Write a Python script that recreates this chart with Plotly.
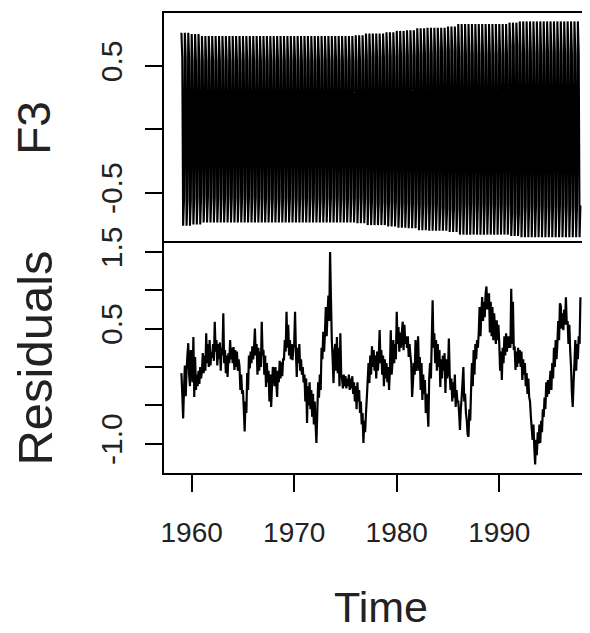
import plotly.graph_objects as go
from plotly.subplots import make_subplots

# ---------------- data ----------------
start_year = 1959
years = list(range(1959, 1998))

# F3 seasonal term: 4-month cycle  peak, shoulder, -peak, -shoulder ; levels per year
f3_peak = [0.76, 0.75, 0.735, 0.735, 0.735, 0.735, 0.735, 0.735, 0.735, 0.735,
           0.735, 0.735, 0.735, 0.735, 0.735, 0.735, 0.735, 0.74, 0.755, 0.755,
           0.765, 0.775, 0.78, 0.795, 0.80, 0.80, 0.81, 0.83, 0.83, 0.83,
           0.83, 0.83, 0.84, 0.85, 0.85, 0.85, 0.85, 0.85, 0.85]
f3_shoulder = [0.56, 0.54, 0.54, 0.54, 0.54, 0.54, 0.54, 0.54, 0.54, 0.54,
               0.54, 0.54, 0.54, 0.54, 0.54, 0.54, 0.54, 0.54, 0.57, 0.57,
               0.57, 0.58, 0.58, 0.59, 0.59, 0.62, 0.62, 0.59, 0.59, 0.59,
               0.59, 0.59, 0.66, 0.60, 0.60, 0.60, 0.60, 0.60, 0.60]
f3_cycle_level = ["peak", "shoulder", "peak", "shoulder"]
f3_cycle_sign = [1, 1, -1, -1]

# monthly residuals, 12 values per year
residuals = [
    -0.08, -0.35, -0.67, -0.30, 0.02, -0.38, -0.05, 0.15, 0.31, -0.10, -0.25, 0.22,   # 1959
    0.05, -0.20, 0.39, -0.39, 0.13, -0.30, -0.10, -0.25, -0.05, -0.22, 0.00, -0.15,   # 1960
    -0.05, 0.18, -0.08, 0.15, -0.05, 0.44, 0.05, 0.30, 0.00, 0.35, 0.02, 0.20,        # 1961
    0.12, 0.30, 0.08, 0.59, 0.20, 0.35, 0.02, 0.30, 0.10, 0.32, -0.05, 0.25,          # 1962
    0.15, 0.70, 0.05, 0.22, -0.08, 0.15, -0.13, 0.18, 0.05, 0.35, 0.10, 0.25,         # 1963
    0.05, 0.26, -0.04, 0.22, 0.00, 0.20, -0.05, 0.10, 0.00, -0.30, -0.10, -0.35,      # 1964
    -0.30, -0.55, -0.84, -0.45, -0.60, -0.08, -0.30, 0.15, -0.02, 0.20, 0.05, 0.27,   # 1965
    0.10, 0.25, 0.50, 0.15, 0.30, -0.10, 0.25, -0.05, 0.20, 0.00, 0.59, 0.15,         # 1966
    0.22, -0.10, 0.15, -0.26, 0.05, -0.20, -0.05, -0.45, -0.10, -0.52, -0.25, 0.00,   # 1967
    -0.05, -0.25, 0.00, -0.20, -0.39, -0.05, -0.20, 0.08, -0.15, 0.06, -0.12, 0.10,   # 1968
    0.10, 0.35, 0.20, 0.72, 0.25, 0.55, 0.15, 0.35, 0.10, 0.30, 0.09, 0.25,           # 1969
    0.30, 0.72, 0.20, -0.13, 0.25, 0.05, 0.30, -0.05, 0.10, -0.10, 0.00, -0.20,       # 1970
    -0.10, -0.45, -0.15, -0.73, -0.25, -0.50, -0.20, -0.55, -0.30, -0.65, -0.35, -0.75,  # 1971
    -0.45, -0.75, -0.99, -0.60, -0.20, -0.40, -0.10, -0.30, 0.25, 0.10, 0.46, 0.20,   # 1972
    0.45, 0.78, 0.40, 0.70, 0.93, 0.60, 1.50, 0.90, 0.35, 0.10, -0.21, 0.20,          # 1973
    0.30, -0.05, 0.39, -0.08, 0.25, -0.25, 0.44, -0.10, -0.15, -0.28, -0.10, -0.25,   # 1974
    -0.12, -0.28, -0.15, -0.25, -0.10, -0.30, -0.15, -0.28, -0.12, -0.35, -0.20, -0.45,  # 1975
    -0.25, -0.55, -0.20, -0.45, -0.30, -0.60, -0.45, -0.75, -0.60, -0.99, -0.70, -0.85,  # 1976
    -0.60, -0.40, -0.17, 0.05, -0.21, 0.15, -0.10, 0.27, 0.00, 0.22, -0.05, 0.15,     # 1977
    -0.15, 0.20, -0.05, 0.15, 0.48, 0.05, 0.22, -0.10, 0.15, -0.25, 0.10, -0.15,      # 1978
    0.05, -0.20, 0.00, -0.30, -0.05, 0.48, -0.10, 0.05, 0.35, 0.05, 0.30, 0.10,       # 1979
    0.72, 0.30, 0.52, 0.20, 0.45, 0.25, 0.45, 0.59, 0.22, 0.55, 0.30, 0.40,           # 1980
    0.25, 0.40, 0.13, 0.30, 0.15, 0.05, -0.39, -0.20, 0.05, -0.10, 0.35, -0.05,       # 1981
    0.10, 0.40, -0.05, 0.13, -0.30, 0.05, -0.43, -0.10, -0.35, -0.17, -0.60, -0.35,   # 1982
    -0.55, -0.78, -0.15, 0.05, -0.15, 0.35, 0.87, 0.25, 0.44, 0.05, 0.35, -0.05,      # 1983
    0.30, 0.00, 0.22, -0.26, 0.10, -0.15, 0.15, -0.05, 0.18, -0.34, 0.10, -0.15,      # 1984
    -0.05, 0.37, -0.10, -0.30, -0.15, -0.45, -0.20, -0.40, -0.10, -0.52, -0.30, -0.45,  # 1985
    -0.45, -0.60, -0.82, -0.55, -0.40, -0.20, 0.00, -0.45, -0.35, -0.60, -0.70, -0.88,  # 1986
    -0.91, -0.55, -0.70, -0.30, 0.05, -0.25, 0.22, -0.10, 0.30, 0.10, 0.35, 0.25,     # 1987
    0.45, 0.78, 0.40, 0.70, 0.91, 0.60, 0.85, 0.65, 0.95, 1.05, 0.75, 0.90,           # 1988
    0.96, 0.45, 0.85, 0.40, 0.78, 0.35, 0.70, 0.50, 0.30, 0.61, 0.35, 0.55,           # 1989
    0.30, -0.05, 0.20, -0.17, 0.25, 0.05, 0.40, 0.15, 0.44, 0.20, 0.40, 0.25,         # 1990
    0.40, 0.25, 1.02, 0.30, 0.85, 0.22, 0.27, -0.04, 0.20, 0.00, 0.25, 0.05,          # 1991
    0.22, 0.00, 0.20, -0.17, 0.10, -0.10, 0.05, -0.25, -0.08, -0.35, -0.15, -0.39,    # 1992
    -0.45, -0.65, -0.80, -0.95, -0.75, -1.05, -1.27, -0.95, -1.15, -0.85, -1.00, -0.75,  # 1993
    -0.99, -0.70, -0.85, -0.55, -0.65, -0.40, -0.55, -0.20, -0.39, -0.17, -0.35, -0.20,  # 1994
    -0.05, -0.30, 0.05, -0.15, 0.25, 0.00, 0.35, 0.10, 0.30, 0.60, 0.35, 0.83,        # 1995
    0.80, 0.50, 0.70, 0.48, 0.75, 0.55, 0.91, 0.55, 0.60, 0.30, 0.55, 0.22,           # 1996
    0.00, -0.34, -0.52, -0.20, 0.05, 0.35, -0.05, 0.30, 0.10, 0.40, 0.30, 0.91,       # 1997
]

x_ticks = [1960, 1970, 1980, 1990]
x_ticklabels = ["1960", "1970", "1980", "1990"]
f3_ticks = [-0.5, 0.0, 0.5]
f3_ticklabels = ["-0.5", "", "0.5"]
res_ticks = [-1.0, -0.5, 0.0, 0.5, 1.0, 1.5]
res_ticklabels = ["-1.0", "", "", "0.5", "", "1.5"]

# ---------------- build series ----------------
n = len(residuals)
time = [start_year + i / 12 for i in range(n)]
f3 = []
for i in range(n):
    yi = i // 12
    lvl = f3_peak[yi] if f3_cycle_level[i % 4] == "peak" else f3_shoulder[yi]
    f3.append(f3_cycle_sign[i % 4] * lvl)

fig = make_subplots(rows=2, cols=1, shared_xaxes=True, vertical_spacing=0)
fig.add_trace(go.Scatter(x=time, y=f3, mode="lines",
                         line=dict(color="black", width=2.1, simplify=False),
                         showlegend=False, hoverinfo="skip"), row=1, col=1)
fig.add_trace(go.Scatter(x=time, y=residuals, mode="lines",
                         line=dict(color="black", width=2.2, simplify=False),
                         showlegend=False, hoverinfo="skip"), row=2, col=1)

FONT = "Liberation Sans, Arial, sans-serif"
axis_common = dict(showgrid=False, zeroline=False, showline=True,
                   linecolor="black", linewidth=1.6)

fig.update_xaxes(range=[1957.30, 1999.63], **axis_common)
fig.update_xaxes(showticklabels=False, ticks="", side="top", mirror=False, row=1, col=1)
fig.update_xaxes(tickvals=x_ticks, ticktext=x_ticklabels, ticks="outside", mirror=True,
                 ticklen=17, tickwidth=1.6, tickcolor="black",
                 ticklabelstandoff=17,
                 tickfont=dict(family=FONT, size=28, color="#222"),
                 title=dict(text="Time", standoff=44,
                            font=dict(family=FONT, size=43, color="#222")),
                 row=2, col=1)

ytick_font = dict(family=FONT, size=30, color="#222")
fig.update_yaxes(range=[-0.896, 0.916], tickvals=f3_ticks, ticktext=f3_ticklabels,
                 ticks="outside", ticklen=17, tickwidth=1.6, tickcolor="black",
                 tickangle=-90, tickfont=ytick_font, ticklabelstandoff=11,
                 title=dict(text="F3", standoff=33,
                            font=dict(family=FONT, size=46, color="#222")),
                 **axis_common, row=1, col=1)
fig.update_yaxes(range=[-1.382, 1.616], tickvals=res_ticks, ticktext=res_ticklabels,
                 ticks="outside", ticklen=17, tickwidth=1.6, tickcolor="black",
                 tickangle=-90, tickfont=ytick_font, ticklabelstandoff=11,
                 title=dict(text="Residuals", standoff=33,
                            font=dict(family=FONT, size=49, color="#222")),
                 **axis_common, row=2, col=1)

# the page body adds an 8px offset; margins compensate so the panels land where the reference has them
fig.update_layout(width=590, height=633,
                  margin=dict(l=156, r=0, t=5, b=168, autoexpand=False),
                  paper_bgcolor="white", plot_bgcolor="white")

fig.write_html("out.html")
